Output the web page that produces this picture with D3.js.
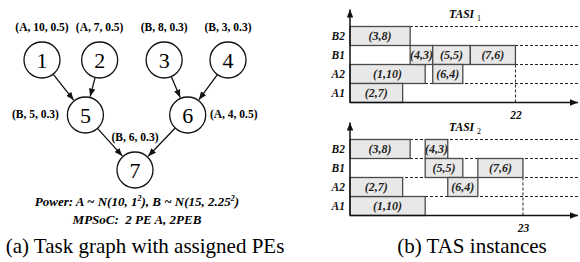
<!DOCTYPE html>
<html>
<head>
<meta charset="utf-8">
<script src="https://cdn.jsdelivr.net/npm/d3@7"></script>
</head>
<body style="margin:0">
<svg width="580" height="262"></svg>
<script>
// task graph data
const taskIds = [1, 2, 3, 4, 5, 6, 7];
const taskPE = ['A', 'A', 'B', 'B', 'B', 'A', 'B'];
const taskDur = [10, 7, 8, 3, 5, 4, 6];
const taskProb = [0.5, 0.5, 0.3, 0.3, 0.3, 0.5, 0.3];
const taskLevel = [0, 0, 0, 0, 1, 1, 2];
const taskCol = [0, 0.93, 1.97, 3, 0.7, 2.35, 1.5];
const labelSide = ['top', 'top', 'top', 'top', 'left', 'right', 'top'];
const edges = [[1, 5], [2, 5], [3, 6], [4, 6], [5, 7], [6, 7]];

// TAS instances
const peRows = ['B2', 'B1', 'A2', 'A1'];
const tasi1PE = ['A2', 'A1', 'B2', 'B1', 'B1', 'A2', 'B1'];
const tasi1Start = [0, 0, 0, 8, 11, 11, 16];
const tasi2PE = ['A1', 'A2', 'B2', 'B2', 'B1', 'A2', 'B1'];
const tasi2Start = [0, 0, 0, 10, 10, 13, 17];

const FONT = '"Liberation Serif", "Times New Roman", monospace';

const svg = d3.select('svg').style('font-family', FONT);
svg.append('rect').attr('width', 580).attr('height', 262).attr('fill', '#fff');

const defs = svg.append('defs');
defs.append('marker')
  .attr('id', 'arr')
  .attr('viewBox', '0 0 10 8')
  .attr('refX', 10).attr('refY', 4)
  .attr('markerWidth', 8).attr('markerHeight', 6.4)
  .attr('markerUnits', 'userSpaceOnUse')
  .attr('orient', 'auto')
  .append('path').attr('d', 'M0,0L10,4L0,8z').attr('fill', '#111');

// ---------- (a) task graph ----------
const R = 18;
const gx = d3.scaleLinear().domain([0, 3]).range([42, 228]);
const gy = d3.scalePoint().domain([0, 1, 2]).range([60, 170]);

const nodes = taskIds.map((id, i) => ({
  id, pe: taskPE[i], dur: taskDur[i], p: taskProb[i],
  x: gx(taskCol[i]), y: gy(taskLevel[i]), side: labelSide[i]
}));
const byId = new Map(nodes.map(n => [n.id, n]));

const graph = svg.append('g');

graph.selectAll('line.edge')
  .data(edges)
  .enter()
  .append('line')
  .attr('class', 'edge')
  .each(function(e) {
    const a = byId.get(e[0]), b = byId.get(e[1]);
    const dx = b.x - a.x, dy = b.y - a.y, len = Math.hypot(dx, dy);
    d3.select(this)
      .attr('x1', a.x + R * dx / len).attr('y1', a.y + R * dy / len)
      .attr('x2', b.x - (R + 1) * dx / len).attr('y2', b.y - (R + 1) * dy / len);
  })
  .attr('stroke', '#111')
  .attr('stroke-width', 1.3)
  .attr('marker-end', 'url(#arr)');

graph.selectAll('circle')
  .data(nodes)
  .enter()
  .append('circle')
  .attr('cx', d => d.x).attr('cy', d => d.y).attr('r', R)
  .attr('fill', '#fff').attr('stroke', '#111').attr('stroke-width', 1.3);

graph.selectAll('text.num')
  .data(nodes)
  .enter()
  .append('text')
  .attr('class', 'num')
  .attr('x', d => d.x).attr('y', d => d.y + 7.5)
  .attr('text-anchor', 'middle')
  .style('font-family', FONT)
  .style('font-size', '22px')
  .text(d => d.id);

graph.selectAll('text.lab')
  .data(nodes)
  .enter()
  .append('text')
  .attr('class', 'lab')
  .attr('x', d => d.side === 'left' ? d.x - 50 : d.side === 'right' ? d.x + 46 : d.x)
  .attr('y', d => d.side === 'top' ? d.y - 29 : d.y + 3)
  .attr('text-anchor', 'middle')
  .style('font-family', FONT)
  .style('font-size', '11.5px')
  .style('font-weight', 'bold')
  .text(d => `(${d.pe}, ${d.dur}, ${d.p})`);

const power = graph.append('text')
  .attr('x', 137).attr('y', 206)
  .attr('text-anchor', 'middle')
  .style('font-family', FONT)
  .style('font-size', '13px').style('font-weight', 'bold').style('font-style', 'italic');
power.append('tspan').text('Power: A ~ N(10, 1');
power.append('tspan').attr('dy', -5).style('font-size', '8px').text('2');
power.append('tspan').attr('dy', 5).text('), B ~ N(15, 2.25');
power.append('tspan').attr('dy', -5).style('font-size', '8px').text('2');
power.append('tspan').attr('dy', 5).text(')');

graph.append('text')
  .attr('x', 137).attr('y', 224)
  .attr('text-anchor', 'middle')
  .style('font-family', FONT)
  .style('white-space', 'pre')
  .style('font-size', '13px').style('font-weight', 'bold').style('font-style', 'italic')
  .text('MPSoC:  2 PE A, 2PEB');

svg.append('text')
  .attr('x', 145).attr('y', 253)
  .attr('text-anchor', 'middle')
  .style('font-family', FONT)
  .style('font-size', '21px')
  .text('(a) Task graph with assigned PEs');

svg.append('text')
  .attr('x', 472).attr('y', 253)
  .attr('text-anchor', 'middle')
  .style('font-family', FONT)
  .style('font-size', '21px')
  .text('(b) TAS instances');

// ---------- (b) TAS instances ----------
const x = d3.scaleLinear().domain([0, 30]).range([350, 350 + 30 * 7.52]);

function drawTasi(top, peList, starts, sub) {
  const axisY = top + 76;
  const y = d3.scaleBand().domain(peRows).range([top, axisY]);
  const g = svg.append('g');

  const bars = taskIds.map((id, i) => ({
    id, dur: taskDur[i], pe: peList[i], start: starts[i]
  }));
  const makespan = d3.max(bars, b => b.start + b.dur);

  // dashed row lines
  g.selectAll('line.row')
    .data(peRows)
    .enter()
    .append('line')
    .attr('x1', x(0)).attr('x2', 580)
    .attr('y1', d => y(d)).attr('y2', d => y(d))
    .attr('stroke', '#222').attr('stroke-width', 1)
    .attr('stroke-dasharray', '3,2');

  // makespan marker
  const lastBar = bars.find(b => b.start + b.dur === makespan);
  g.append('line')
    .attr('x1', x(makespan)).attr('x2', x(makespan))
    .attr('y1', y(lastBar.pe) + y.bandwidth()).attr('y2', axisY)
    .attr('stroke', '#222').attr('stroke-dasharray', '3,2');

  g.selectAll('rect.task')
    .data(bars)
    .enter()
    .append('rect')
    .attr('class', 'task')
    .attr('x', d => x(d.start))
    .attr('y', d => y(d.pe))
    .attr('width', d => x(d.start + d.dur) - x(d.start))
    .attr('height', y.bandwidth())
    .attr('fill', '#e8e8e8')
    .attr('stroke', '#4a4a4a')
    .attr('stroke-width', 1.3);

  g.selectAll('text.task')
    .data(bars)
    .enter()
    .append('text')
    .attr('class', 'task')
    .attr('x', d => x(d.start + d.dur / 2))
    .attr('y', d => y(d.pe) + y.bandwidth() / 2 + 4)
    .attr('text-anchor', 'middle')
    .style('font-family', FONT)
    .style('font-size', '12px').style('font-weight', 'bold').style('font-style', 'italic')
    .attr('fill', '#222')
    .text(d => `(${d.id},${d.dur})`);

  // axes
  const yAxis = g.append('g')
    .attr('transform', `translate(${x(0)},0)`)
    .call(d3.axisLeft(y).tickSize(0).tickPadding(5));
  yAxis.select('.domain').remove();
  yAxis.selectAll('text')
    .style('font-family', FONT)
    .style('font-size', '11.5px')
    .style('font-weight', 'bold').style('font-style', 'italic').attr('fill', '#111');

  const xAxis = g.append('g')
    .attr('transform', `translate(0,${axisY})`)
    .call(d3.axisBottom(x).tickValues([makespan]).tickSize(0).tickPadding(8));
  xAxis.select('.domain').remove();
  xAxis.selectAll('text')
    .style('font-family', FONT)
    .style('font-size', '11.5px')
    .style('font-weight', 'bold').style('font-style', 'italic').attr('fill', '#111');

  g.append('line')
    .attr('x1', x(0)).attr('x2', 578)
    .attr('y1', axisY).attr('y2', axisY)
    .attr('stroke', '#111').attr('stroke-width', 1.5)
    .attr('marker-end', 'url(#arr)');
  g.append('line')
    .attr('x1', x(0)).attr('x2', x(0))
    .attr('y1', axisY).attr('y2', top - 17)
    .attr('stroke', '#111').attr('stroke-width', 1.5)
    .attr('marker-end', 'url(#arr)');

  const title = g.append('text')
    .attr('x', 465).attr('y', top - 9)
    .attr('text-anchor', 'middle')
    .style('font-family', FONT)
    .style('font-size', '11.5px').style('font-weight', 'bold').style('font-style', 'italic');
  title.append('tspan').text('TASI ');
  title.append('tspan').attr('dy', 3).style('font-size', '8px')
    .style('font-weight', 'normal').style('font-style', 'normal').text(sub);
}

drawTasi(26.5, tasi1PE, tasi1Start, '1');
drawTasi(139.5, tasi2PE, tasi2Start, '2');
</script>
</body>
</html>
